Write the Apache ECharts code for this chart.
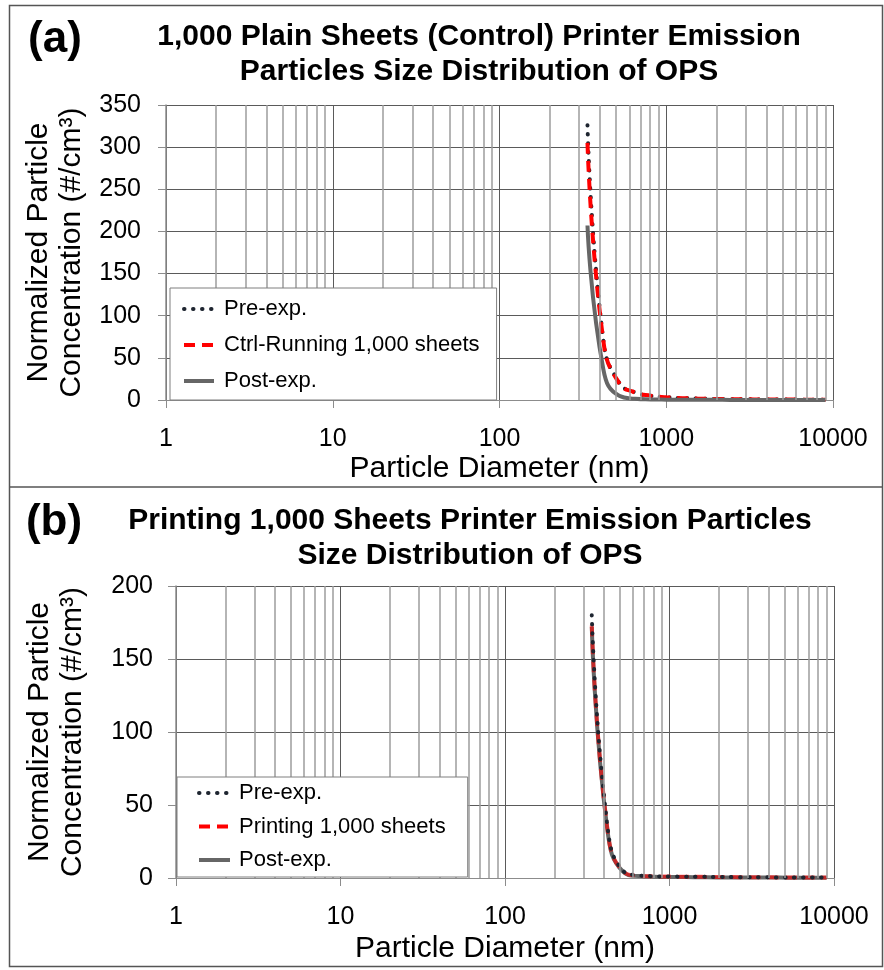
<!DOCTYPE html>
<html>
<head>
<meta charset="utf-8">
<script src="https://cdn.jsdelivr.net/npm/echarts@6/dist/echarts.min.js"></script>
<style>
  html, body { margin: 0; padding: 0; background: #fff; }
  #chart { width: 884px; height: 970px; }
</style>
</head>
<body>
<div id="chart"></div>
<script>
  // OPS bin mid-points (nm)
  var diameters = [337, 419, 522, 650, 809, 1007, 1254, 1562, 1944, 2421, 3014, 3752, 4672, 5816, 7241, 9016];

  // (a) control run
  var aPre  = [326, 72, 20.5, 9, 5, 3.2, 2.2, 1.6, 1.2, 1.0, 0.8, 0.7, 0.6, 0.5, 0.4, 0.3];
  var aCtrl = [305, 71, 20, 9, 5, 3.2, 2.2, 1.6, 1.2, 1.0, 0.8, 0.7, 0.6, 0.5, 0.4, 0.3];
  var aPost = [207, 37, 5, 1.5, 0.7, 0.4, 0.3, 0.2, 0.2, 0.1, 0.1, 0.1, 0.1, 0.1, 0.1, 0.1];

  // (b) printing run
  var bPre   = [180, 36, 5, 1.8, 1.2, 1.0, 0.9, 0.8, 0.7, 0.6, 0.5, 0.5, 0.4, 0.4, 0.3, 0.3];
  var bPrint = [173, 34, 4.6, 1.6, 1.2, 1.0, 0.9, 0.8, 0.7, 0.6, 0.5, 0.5, 0.4, 0.4, 0.3, 0.3];
  var bPost  = [172, 33, 4.3, 1.3, 0.9, 0.7, 0.6, 0.5, 0.4, 0.4, 0.3, 0.3, 0.3, 0.2, 0.2, 0.2];

  var xTicks = [1, 10, 100, 1000, 10000];
  var minorGrid = [2, 3, 4, 5, 6, 7, 8, 9, 20, 30, 40, 50, 60, 70, 80, 90,
    200, 300, 400, 500, 600, 700, 800, 900, 2000, 3000, 4000, 5000, 6000, 7000, 8000, 9000];

  var FONT = '"Liberation Sans", Arial, sans-serif';

  function pairs(vals) {
    return diameters.map(function (d, i) { return [d, vals[i]]; });
  }

  var preStyle  = { color: '#1e2530', width: 4, type: [0.5, 8.5], cap: 'round' };
  var ctrlStyle = { color: '#ff0000', width: 4, type: [11, 7] };
  // printing curve sits on top of the grey one, so it reads darker
  var printStyle = { color: '#ff0000', width: 4, type: [11, 7], opacity: 0.6 };
  var postStyle = { color: '#666666', width: 4, type: 'solid' };

  function xAxis(idx, gap) {
    return {
      type: 'log', logBase: 10, min: 1, max: 10000, gridIndex: idx,
      name: 'Particle Diameter (nm)', nameLocation: 'middle', nameGap: gap,
      nameTextStyle: { fontSize: 30, color: '#000', fontFamily: FONT },
      axisLine: { onZero: false, lineStyle: { color: '#8c8c8c', width: 1 } },
      axisTick: { show: true, length: 8, lineStyle: { color: '#8c8c8c' } },
      axisLabel: {
        fontSize: 25, color: '#000', fontFamily: FONT, margin: 27,
        formatter: function (v) {
          var r = Math.round(v);
          return xTicks.indexOf(r) >= 0 ? String(r) : '';
        }
      },
      splitLine: { show: true, lineStyle: { color: '#5a5a5a', width: 1 } },
      minorTick: { show: false }, minorSplitLine: { show: false }
    };
  }

  function yAxis(idx, max, gap, margin) {
    return {
      type: 'value', min: 0, max: max, interval: 50, gridIndex: idx,
      name: 'Normalized Particle\nConcentration (#/cm³)',
      nameLocation: 'middle', nameRotate: 90, nameGap: gap,
      nameTextStyle: { fontSize: 30, lineHeight: 33, color: '#000', fontFamily: FONT },
      axisLine: { show: true, lineStyle: { color: '#8c8c8c', width: 1.5 } },
      axisTick: { show: true, length: 8, lineStyle: { color: '#8c8c8c' } },
      axisLabel: { fontSize: 25, color: '#000', fontFamily: FONT, margin: margin },
      splitLine: { show: true, lineStyle: { color: '#5a5a5a', width: 1 } }
    };
  }

  function gridSeries(idx) {
    return {
      type: 'line', xAxisIndex: idx, yAxisIndex: idx, data: [], z: 1, silent: true,
      markLine: {
        silent: true, symbol: 'none', animation: false,
        label: { show: false },
        lineStyle: { color: '#9c9c9c', width: 1.5, type: 'solid' },
        data: minorGrid.map(function (v) { return { xAxis: v }; })
      }
    };
  }

  function line(name, idx, vals, style, z) {
    return {
      name: name, type: 'line', xAxisIndex: idx, yAxisIndex: idx,
      data: pairs(vals), smooth: 0.5, symbol: 'none', showSymbol: false,
      lineStyle: style, itemStyle: { color: style.color }, z: z
    };
  }

  function legend(left, top, names, padding, itemWidth, itemGap, textPad) {
    return {
      left: left, top: top, orient: 'vertical', data: names, z: 20,
      backgroundColor: '#fff', borderColor: '#7f7f7f', borderWidth: 1, borderRadius: 0,
      padding: padding, itemWidth: itemWidth, itemHeight: 14, itemGap: itemGap,
      itemStyle: { opacity: 0 },
      lineStyle: { width: 4, opacity: 1, inactiveColor: '#ccc' },
      textStyle: { fontSize: 22, lineHeight: 24, color: '#000', fontFamily: FONT, padding: [0, 0, 0, textPad] }
    };
  }

  var myChart = echarts.init(document.getElementById('chart'), null, { renderer: 'canvas' });

  myChart.setOption({
    animation: false,
    backgroundColor: '#fff',
    graphic: [
      { type: 'rect', shape: { x: 9.5, y: 5.5, width: 873, height: 961 }, style: { fill: 'none', stroke: '#555', lineWidth: 1.5 }, z: 100 },
      { type: 'line', shape: { x1: 9.5, y1: 487, x2: 882.5, y2: 487 }, style: { stroke: '#555', lineWidth: 1.5 }, z: 100 },
      { type: 'text', x: 55, y: 40, style: { text: '(a)', font: 'bold 44px ' + FONT, fill: '#000', textAlign: 'center', textVerticalAlign: 'middle' } },
      { type: 'text', x: 479, y: 54.5, style: { text: '1,000 Plain Sheets (Control) Printer Emission\nParticles Size Distribution of OPS', font: 'bold 30px ' + FONT, lineHeight: 35, fill: '#000', textAlign: 'center', textVerticalAlign: 'middle' } },
      { type: 'text', x: 54, y: 523, style: { text: '(b)', font: 'bold 44px ' + FONT, fill: '#000', textAlign: 'center', textVerticalAlign: 'middle' } },
      { type: 'text', x: 470, y: 538.5, style: { text: 'Printing 1,000 Sheets Printer Emission Particles\nSize Distribution of OPS', font: 'bold 30px ' + FONT, lineHeight: 35, fill: '#000', textAlign: 'center', textVerticalAlign: 'middle' } }
    ],
    grid: [
      { left: 166, top: 105, right: 51, bottom: 570 },
      { left: 176, top: 586, right: 50, bottom: 92 }
    ],
    xAxis: [xAxis(0, 54), xAxis(1, 56)],
    yAxis: [yAxis(0, 350, 76, 25), yAxis(1, 200, 87, 23)],
    legend: [
      legend(170, 288, ['Pre-exp.', 'Ctrl-Running 1,000 sheets', 'Post-exp.'], [9, 17, 7, 12], 30, 12, 5),
      legend(177, 777, ['Pre-exp.', 'Printing 1,000 sheets', 'Post-exp.'], [4, 22, 5, 20], 31, 9.5, 4)
    ],
    series: [
      gridSeries(0),
      gridSeries(1),
      line('Pre-exp.', 0, aPre, preStyle, 2),
      line('Ctrl-Running 1,000 sheets', 0, aCtrl, ctrlStyle, 3),
      line('Post-exp.', 0, aPost, postStyle, 4),
      line('Post-exp.', 1, bPost, postStyle, 2),
      line('Printing 1,000 sheets', 1, bPrint, printStyle, 3),
      line('Pre-exp.', 1, bPre, preStyle, 4)
    ]
  });

  window.onresize = myChart.resize;
</script>
</body>
</html>
